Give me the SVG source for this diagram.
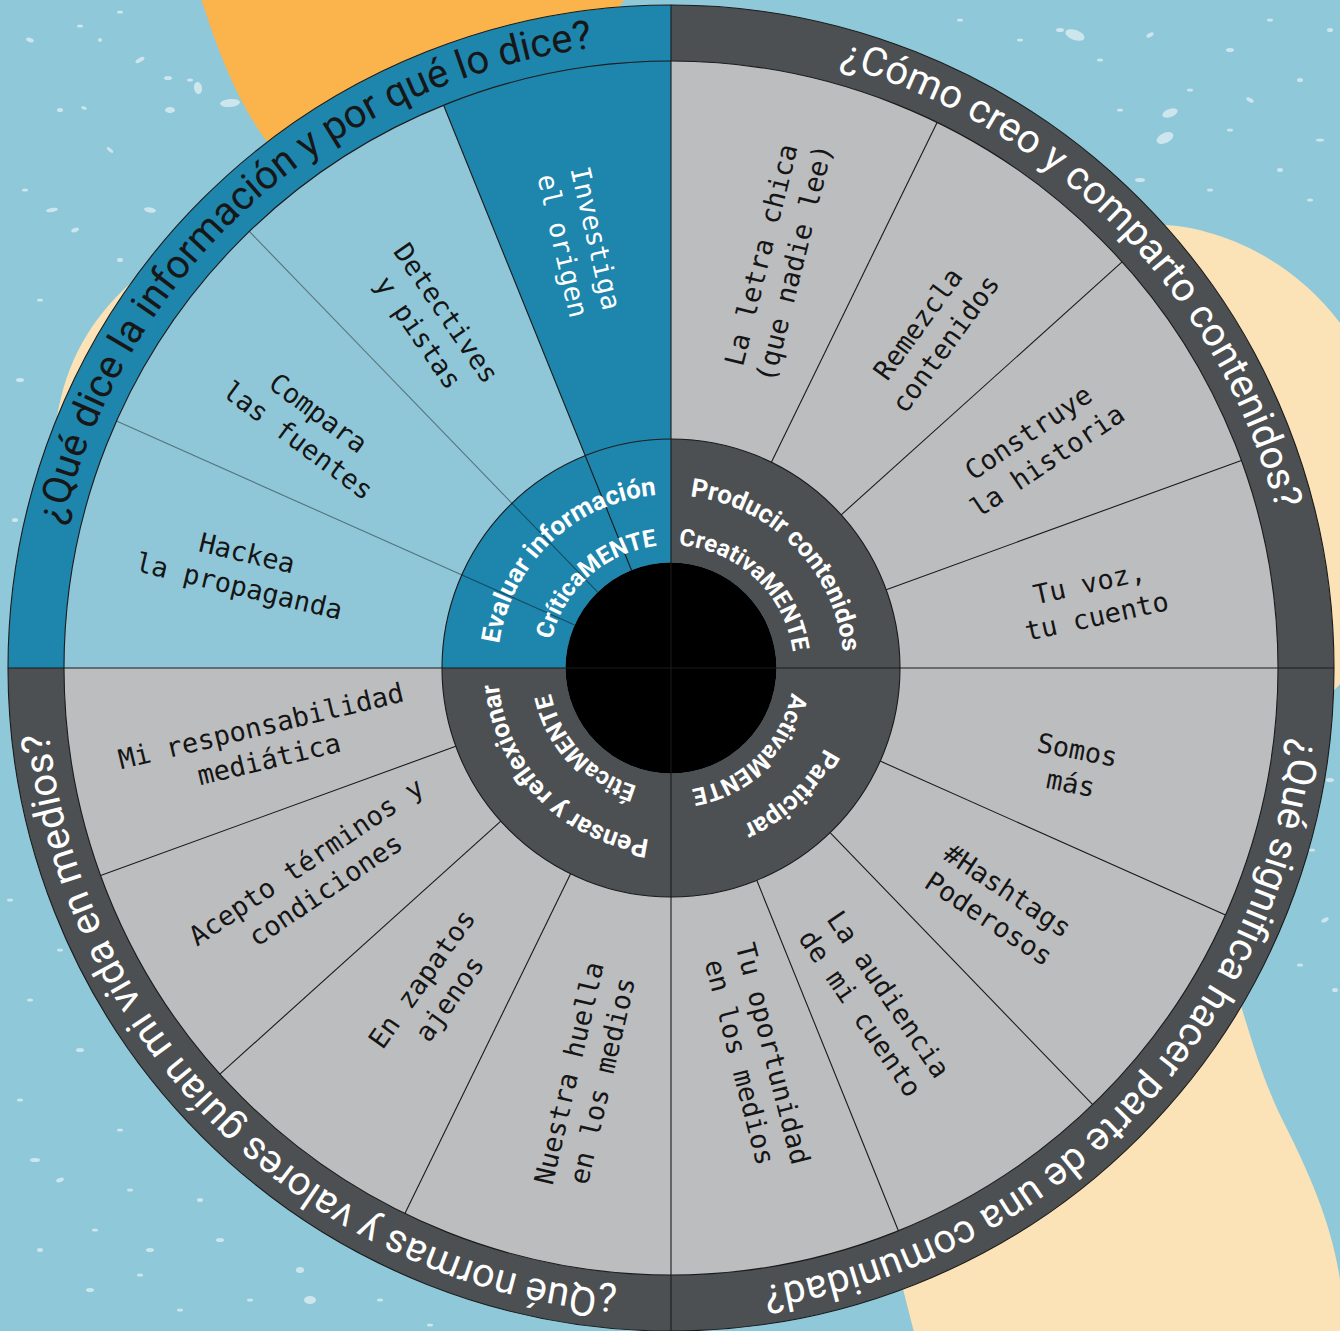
<svg xmlns="http://www.w3.org/2000/svg" width="1340" height="1331" viewBox="0 0 1340 1331">
<defs>
<style>
.ring{font-family:Roboto,"Liberation Sans",sans-serif;font-size:40px}
.hub{font-family:Roboto,"Liberation Sans",sans-serif;font-size:26px;font-weight:700;fill:#fff}
.hubi{font-family:Roboto,"Liberation Sans",sans-serif;font-size:24px;font-weight:700;fill:#fff}
.lbl{font-family:"DejaVu Sans Mono","Liberation Mono",monospace;font-size:27px;fill:#151515;text-anchor:middle}
.gray{fill:#bcbdbf}
.dark{fill:#4c5052}
.blue{fill:#1e85ad}
.lblue{fill:#8fc7d8}
.sp ellipse{fill:#cde6ee}
.ln{stroke:#1a1a1a;stroke-width:1.1;fill:none}
.lnl{stroke:#000;stroke-opacity:0.42;stroke-width:1.1}
</style>
<path id="r-tl" d="M171.9,1044.1 A625,625 0 0 1 1097.3,210.9"/>
<path id="r-tr" d="M273.4,185.7 A625,625 0 0 1 1146.3,1073.9"/>
<path id="r-br" d="M1142.7,257.9 A625,625 0 0 1 277.7,1153.7"/>
<path id="r-bl" d="M1076.9,1143.3 A625,625 0 0 1 188.7,270.4"/>
<path id="h-tl-o" d="M535.4,775.5 A173,173 0 0 1 785.9,538.6"/>
<path id="h-tl-i" d="M572.3,741.3 A123,123 0 0 1 755.5,578.6"/>
<path id="h-tr-o" d="M561.0,534.5 A173,173 0 0 1 802.5,780.3"/>
<path id="h-tr-i" d="M588.7,576.6 A123,123 0 0 1 767.9,743.7"/>
<path id="h-br-o" d="M806.4,560.3 A173,173 0 0 1 556.4,797.6"/>
<path id="h-br-i" d="M766.6,590.6 A123,123 0 0 1 590.3,760.8"/>
<path id="h-bl-o" d="M779.9,802.4 A173,173 0 0 1 540.4,554.5"/>
<path id="h-bl-i" d="M746.7,764.9 A123,123 0 0 1 579.6,585.7"/>
</defs>

<g id="background">
<rect x="0" y="0" width="1340" height="1331" fill="#8fc8d8"/>
<g class="sp">
<ellipse cx="30" cy="40" rx="4" ry="2" transform="rotate(20 30 40)"/>
<ellipse cx="80" cy="26" rx="3" ry="1.5"/>
<ellipse cx="140" cy="60" rx="5" ry="2" transform="rotate(-30 140 60)"/>
<ellipse cx="60" cy="110" rx="3" ry="2"/>
<ellipse cx="110" cy="150" rx="4" ry="1.5" transform="rotate(40 110 150)"/>
<ellipse cx="170" cy="110" rx="5" ry="3"/>
<ellipse cx="25" cy="190" rx="3" ry="1.5"/>
<ellipse cx="75" cy="230" rx="4" ry="2" transform="rotate(-20 75 230)"/>
<ellipse cx="150" cy="210" rx="6" ry="2.5" transform="rotate(10 150 210)"/>
<ellipse cx="40" cy="300" rx="3" ry="1.5"/>
<ellipse cx="20" cy="380" rx="4" ry="2"/>
<ellipse cx="55" cy="460" rx="3" ry="1.5" transform="rotate(30 55 460)"/>
<ellipse cx="15" cy="520" rx="3" ry="2"/>
<ellipse cx="190" cy="80" rx="3" ry="1.5"/>
<ellipse cx="198" cy="88" rx="4" ry="6" transform="rotate(-10 198 88)"/>
<ellipse cx="230" cy="103" rx="10" ry="4" transform="rotate(-5 230 103)"/>
<ellipse cx="168" cy="78" rx="4" ry="2"/>
<ellipse cx="84" cy="108" rx="3" ry="1.5" transform="rotate(20 84 108)"/>
<ellipse cx="52" cy="210" rx="6" ry="2" transform="rotate(-10 52 210)"/>
<ellipse cx="120" cy="260" rx="3" ry="2"/>
<ellipse cx="100" cy="40" rx="2" ry="2"/>
<ellipse cx="120" cy="12" rx="3" ry="1.5"/>
<ellipse cx="1060" cy="30" rx="4" ry="2"/>
<ellipse cx="1075" cy="35" rx="10" ry="5" transform="rotate(20 1075 35)"/>
<ellipse cx="1100" cy="60" rx="3" ry="1.5"/>
<ellipse cx="1150" cy="35" rx="4" ry="2" transform="rotate(-30 1150 35)"/>
<ellipse cx="1170" cy="113" rx="8" ry="4" transform="rotate(-20 1170 113)"/>
<ellipse cx="1165" cy="138" rx="9" ry="5" transform="rotate(-25 1165 138)"/>
<ellipse cx="1190" cy="90" rx="3" ry="1.5"/>
<ellipse cx="1230" cy="50" rx="4" ry="2"/>
<ellipse cx="1270" cy="20" rx="3" ry="1.5"/>
<ellipse cx="1300" cy="80" rx="3" ry="2"/>
<ellipse cx="1320" cy="140" rx="4" ry="1.5"/>
<ellipse cx="1280" cy="170" rx="3" ry="2"/>
<ellipse cx="1230" cy="130" rx="3" ry="1.5"/>
<ellipse cx="1120" cy="110" rx="3" ry="1.5"/>
<ellipse cx="1250" cy="100" rx="4" ry="2" transform="rotate(30 1250 100)"/>
<ellipse cx="1310" cy="200" rx="3" ry="1.5"/>
<ellipse cx="1020" cy="40" rx="3" ry="1.5"/>
<ellipse cx="960" cy="20" rx="3" ry="1.5"/>
<ellipse cx="1330" cy="30" rx="3" ry="2"/>
<ellipse cx="1140" cy="180" rx="5" ry="2"/>
<ellipse cx="1210" cy="190" rx="3" ry="1.5"/>
<ellipse cx="1320" cy="720" rx="3" ry="1.5"/>
<ellipse cx="1330" cy="780" rx="4" ry="2"/>
<ellipse cx="1312" cy="850" rx="3" ry="1.5"/>
<ellipse cx="1325" cy="920" rx="4" ry="2" transform="rotate(-30 1325 920)"/>
<ellipse cx="1300" cy="965" rx="3" ry="1.5"/>
<ellipse cx="1335" cy="990" rx="3" ry="2"/>
<ellipse cx="30" cy="1000" rx="3" ry="1.5"/>
<ellipse cx="80" cy="1050" rx="4" ry="2"/>
<ellipse cx="20" cy="1100" rx="3" ry="1.5"/>
<ellipse cx="60" cy="1180" rx="4" ry="2" transform="rotate(-20 60 1180)"/>
<ellipse cx="120" cy="1130" rx="3" ry="1.5"/>
<ellipse cx="150" cy="1250" rx="4" ry="2"/>
<ellipse cx="200" cy="1200" rx="3" ry="2"/>
<ellipse cx="90" cy="1290" rx="4" ry="2"/>
<ellipse cx="250" cy="1300" rx="3" ry="1.5"/>
<ellipse cx="300" cy="1270" rx="4" ry="3"/>
<ellipse cx="310" cy="1300" rx="6" ry="4"/>
<ellipse cx="180" cy="1310" rx="3" ry="1.5"/>
<ellipse cx="40" cy="1250" rx="3" ry="2"/>
<ellipse cx="130" cy="1190" rx="3" ry="1.5"/>
<ellipse cx="220" cy="1240" rx="4" ry="2"/>
<ellipse cx="380" cy="1300" rx="3" ry="1.5"/>
<ellipse cx="60" cy="950" rx="3" ry="1.5"/>
<ellipse cx="10" cy="900" rx="3" ry="1.5"/>
<ellipse cx="35" cy="1160" rx="5" ry="2"/>
<ellipse cx="95" cy="1230" rx="3" ry="1.5"/>
<ellipse cx="140" cy="1275" rx="3" ry="1.5"/>
<ellipse cx="430" cy="1325" rx="3" ry="1.5"/>
</g>
<path d="M200,-5 C217,50 240,110 275,152 L600,300 L618,8 L628,-5 Z" fill="#fbb44c"/>
<path d="M132,282 C90.7,318 65.7,363 57,417 L400,417 L400,282 Z" fill="#fce3b7"/>
<path d="M1150,225 C1200,222 1290,250 1345,330 L1345,680 C1340,684 1336,688 1330,695 L1000,600 L1000,300 Z" fill="#fce3b7"/>
<path d="M1236,990 C1252,1040 1262,1080 1285,1125 C1310,1175 1332,1225 1340,1280 L1345,1340 L916,1340 L903,1289 L860,1200 Z" fill="#fce3b7"/>
</g>

<g id="ring-tl">
<path class="blue" d="M64,668 L8,668 A663,663 0 0 1 671,5 L671,61 A607,607 0 0 0 64,668 Z"/>
<text class="ring" fill="#171717"><textPath href="#r-tl" startOffset="50%" text-anchor="middle">¿Qué dice la información y por qué lo dice?</textPath></text>
</g>
<g id="ring-tr">
<path class="dark" d="M671,61 L671,5 A663,663 0 0 1 1334,668 L1278,668 A607,607 0 0 0 671,61 Z"/>
<text class="ring" fill="#fff"><textPath href="#r-tr" startOffset="50%" text-anchor="middle">¿Cómo creo y comparto contenidos?</textPath></text>
</g>
<g id="ring-br">
<path class="dark" d="M1278,668 L1334,668 A663,663 0 0 1 671,1331 L671,1275 A607,607 0 0 0 1278,668 Z"/>
<text class="ring" fill="#fff"><textPath href="#r-br" startOffset="50%" text-anchor="middle">¿Qué significa hacer parte de una comunidad?</textPath></text>
</g>
<g id="ring-bl">
<path class="dark" d="M671,1275 L671,1331 A663,663 0 0 1 8,668 L64,668 A607,607 0 0 0 671,1275 Z"/>
<text class="ring" fill="#fff"><textPath href="#r-bl" startOffset="50%" text-anchor="middle">¿Qué normas y valores guían mi vida en medios?</textPath></text>
</g>

<g id="wedge-hackea">
<path class="lblue" d="M442,668 L64,668 A607,607 0 0 1 116.5,421.1 L461.8,574.9 A229,229 0 0 0 442,668 Z"/>
<text class="lbl" transform="translate(243,570) rotate(13.4)"><tspan x="0" y="-8">Hackea</tspan><tspan x="0" y="26">la propaganda</tspan></text>
</g>
<g id="wedge-compara">
<path class="lblue" d="M461.8,574.9 L116.5,421.1 A607,607 0 0 1 249.3,231.4 L511.9,503.3 A229,229 0 0 0 461.8,574.9 Z"/>
<text class="lbl" transform="translate(308,427) rotate(36.5)"><tspan x="0" y="-8">Compara</tspan><tspan x="0" y="26">las fuentes</tspan></text>
</g>
<g id="wedge-detectives">
<path class="lblue" d="M511.9,503.3 L249.3,231.4 A607,607 0 0 1 443.6,105.2 L585.2,455.7 A229,229 0 0 0 511.9,503.3 Z"/>
<text class="lbl" transform="translate(432,323) rotate(55.5)"><tspan x="0" y="-8">Detectives</tspan><tspan x="0" y="26">y pistas</tspan></text>
</g>
<g id="wedge-investiga">
<path class="blue" d="M585.2,455.7 L443.6,105.2 A607,607 0 0 1 671,61 L671,439 A229,229 0 0 0 585.2,455.7 Z"/>
<text class="lbl" style="fill:#fff" transform="translate(579,242) rotate(77)"><tspan x="0" y="-8">Investiga</tspan><tspan x="0" y="26">el origen</tspan></text>
</g>

<g id="wedge-letra-chica">
<path class="gray" d="M671,439 L671,61 A607,607 0 0 1 937.1,122.4 L771.4,462.2 A229,229 0 0 0 671,439 Z"/>
<text class="lbl" transform="translate(778,259) rotate(-76)"><tspan x="0" y="-8">La letra chica</tspan><tspan x="0" y="26">(que nadie lee)</tspan></text>
</g>
<g id="wedge-remezcla">
<path class="gray" d="M771.4,462.2 L937.1,122.4 A607,607 0 0 1 1122.1,261.9 L841.2,514.8 A229,229 0 0 0 771.4,462.2 Z"/>
<text class="lbl" transform="translate(932,334) rotate(-54)"><tspan x="0" y="-8">Remezcla</tspan><tspan x="0" y="26">contenidos</tspan></text>
</g>
<g id="wedge-construye">
<path class="gray" d="M841.2,514.8 L1122.1,261.9 A607,607 0 0 1 1241.4,460.4 L886.2,589.7 A229,229 0 0 0 841.2,514.8 Z"/>
<text class="lbl" transform="translate(1038,447) rotate(-34)"><tspan x="0" y="-8">Construye</tspan><tspan x="0" y="26">la historia</tspan></text>
</g>
<g id="wedge-tu-voz">
<path class="gray" d="M886.2,589.7 L1241.4,460.4 A607,607 0 0 1 1278,668 L900,668 A229,229 0 0 0 886.2,589.7 Z"/>
<text class="lbl" transform="translate(1093,600) rotate(-12.4)"><tspan x="0" y="-8">Tu voz,</tspan><tspan x="0" y="26">tu cuento</tspan></text>
</g>

<g id="wedge-somos">
<path class="gray" d="M900,668 L1278,668 A607,607 0 0 1 1225.5,914.9 L880.2,761.1 A229,229 0 0 0 900,668 Z"/>
<text class="lbl" transform="translate(1074,767) rotate(11)"><tspan x="0" y="-8">Somos</tspan><tspan x="0" y="26">más</tspan></text>
</g>
<g id="wedge-hashtags">
<path class="gray" d="M880.2,761.1 L1225.5,914.9 A607,607 0 0 1 1092.7,1104.6 L830.1,832.7 A229,229 0 0 0 880.2,761.1 Z"/>
<text class="lbl" transform="translate(998,905) rotate(33.5)"><tspan x="0" y="-8">#Hashtags</tspan><tspan x="0" y="26">Poderosos</tspan></text>
</g>
<g id="wedge-audiencia">
<path class="gray" d="M830.1,832.7 L1092.7,1104.6 A607,607 0 0 1 898.4,1230.8 L756.8,880.3 A229,229 0 0 0 830.1,832.7 Z"/>
<text class="lbl" transform="translate(874,1004) rotate(55.7)"><tspan x="0" y="-8">La audiencia</tspan><tspan x="0" y="26">de mi cuento</tspan></text>
</g>
<g id="wedge-oportunidad">
<path class="gray" d="M756.8,880.3 L898.4,1230.8 A607,607 0 0 1 671,1275 L671,897 A229,229 0 0 0 756.8,880.3 Z"/>
<text class="lbl" transform="translate(756,1058) rotate(75.6)"><tspan x="0" y="-8">Tu oportunidad</tspan><tspan x="0" y="26">en los medios</tspan></text>
</g>

<g id="wedge-huella">
<path class="gray" d="M671,897 L671,1275 A607,607 0 0 1 404.9,1213.6 L570.6,873.8 A229,229 0 0 0 671,897 Z"/>
<text class="lbl" transform="translate(586,1077) rotate(-76.9)"><tspan x="0" y="-8">Nuestra huella</tspan><tspan x="0" y="26">en los medios</tspan></text>
</g>
<g id="wedge-zapatos">
<path class="gray" d="M570.6,873.8 L404.9,1213.6 A607,607 0 0 1 219.9,1074.1 L500.8,821.2 A229,229 0 0 0 570.6,873.8 Z"/>
<text class="lbl" transform="translate(436,989) rotate(-54.6)"><tspan x="0" y="-8">En zapatos</tspan><tspan x="0" y="26">ajenos</tspan></text>
</g>
<g id="wedge-acepto">
<path class="gray" d="M500.8,821.2 L219.9,1074.1 A607,607 0 0 1 100.6,875.6 L455.8,746.3 A229,229 0 0 0 500.8,821.2 Z"/>
<text class="lbl" transform="translate(316,876) rotate(-34)"><tspan x="0" y="-8">Acepto términos y</tspan><tspan x="0" y="26">condiciones</tspan></text>
</g>
<g id="wedge-responsabilidad">
<path class="gray" d="M455.8,746.3 L100.6,875.6 A607,607 0 0 1 64,668 L442,668 A229,229 0 0 0 455.8,746.3 Z"/>
<text class="lbl" transform="translate(265,743) rotate(-13.5)"><tspan x="0" y="-8">Mi responsabilidad</tspan><tspan x="0" y="26">mediática</tspan></text>
</g>

<g id="hub-tl">
<path class="blue" d="M565.5,668 L442,668 A229,229 0 0 1 671,439 L671,562.5 A105.5,105.5 0 0 0 565.5,668 Z"/>
</g>
<g id="hub-tr">
<path class="dark" d="M671,562.5 L671,439 A229,229 0 0 1 900,668 L776.5,668 A105.5,105.5 0 0 0 671,562.5 Z"/>
</g>
<g id="hub-br">
<path class="dark" d="M776.5,668 L900,668 A229,229 0 0 1 671,897 L671,773.5 A105.5,105.5 0 0 0 776.5,668 Z"/>
</g>
<g id="hub-bl">
<path class="dark" d="M671,773.5 L671,897 A229,229 0 0 1 442,668 L565.5,668 A105.5,105.5 0 0 0 671,773.5 Z"/>
</g>
<g id="center">
<circle cx="671" cy="668" r="105.5" fill="#000"/>
</g>

<g id="connectors">
<circle class="ln" cx="671" cy="668" r="663"/>
<circle class="ln" cx="671" cy="668" r="607"/>
<circle class="ln" cx="671" cy="668" r="229"/>
<line class="ln" x1="8" y1="668" x2="1334" y2="668"/>
<line class="ln" x1="671" y1="5" x2="671" y2="1331"/>
<line class="ln" x1="771.4" y1="462.2" x2="937.1" y2="122.4"/>
<line class="ln" x1="841.2" y1="514.8" x2="1122.1" y2="261.9"/>
<line class="ln" x1="886.2" y1="589.7" x2="1241.4" y2="460.4"/>
<line class="ln" x1="880.2" y1="761.1" x2="1225.5" y2="914.9"/>
<line class="ln" x1="830.1" y1="832.7" x2="1092.7" y2="1104.6"/>
<line class="ln" x1="756.8" y1="880.3" x2="898.4" y2="1230.8"/>
<line class="ln" x1="570.6" y1="873.8" x2="404.9" y2="1213.6"/>
<line class="ln" x1="500.8" y1="821.2" x2="219.9" y2="1074.1"/>
<line class="ln" x1="455.8" y1="746.3" x2="100.6" y2="875.6"/>
<line class="ln" x1="631.5" y1="570.2" x2="443.6" y2="105.2"/>
<line class="lnl" x1="597.7" y1="592.1" x2="249.3" y2="231.4"/>
<line class="lnl" x1="574.6" y1="625.1" x2="116.5" y2="421.1"/>
</g>

<g id="hub-labels">
<text class="hub"><textPath href="#h-tl-o" startOffset="50%" text-anchor="middle">Evaluar información</textPath></text>
<text class="hubi"><textPath href="#h-tl-i" startOffset="50%" text-anchor="middle">CríticaMENTE</textPath></text>
<text class="hub"><textPath href="#h-tr-o" startOffset="50%" text-anchor="middle">Producir contenidos</textPath></text>
<text class="hubi"><textPath href="#h-tr-i" startOffset="50%" text-anchor="middle">CreativaMENTE</textPath></text>
<text class="hub"><textPath href="#h-br-o" startOffset="50%" text-anchor="middle">Participar</textPath></text>
<text class="hubi"><textPath href="#h-br-i" startOffset="50%" text-anchor="middle">ActivaMENTE</textPath></text>
<text class="hub"><textPath href="#h-bl-o" startOffset="50%" text-anchor="middle">Pensar y reflexionar</textPath></text>
<text class="hubi"><textPath href="#h-bl-i" startOffset="50%" text-anchor="middle">ÉticaMENTE</textPath></text>
</g>
</svg>
